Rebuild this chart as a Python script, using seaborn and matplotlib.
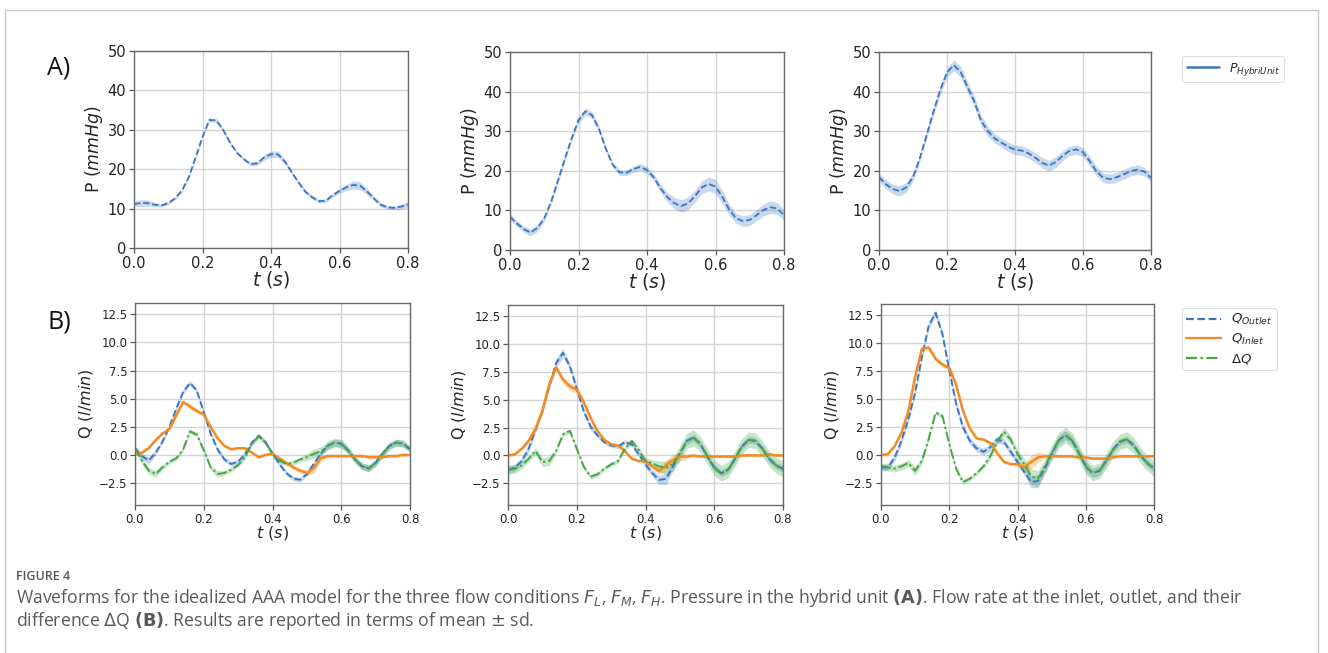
import numpy as np
import pandas as pd
import matplotlib
matplotlib.use("Agg")
import matplotlib.pyplot as plt
from matplotlib.lines import Line2D
import seaborn as sns

# time axis shared by every curve (s)
t = np.round(np.arange(0, 0.8001, 0.02), 2)

# ---- A) pressure in the hybrid unit, mean and sd (mmHg) ----
p_low = [11.2, 11.4, 11.4, 11.0, 10.8, 11.4, 12.6, 14.6, 18.0, 23.0, 28.2,
         32.5, 32.4, 30.0, 26.8, 24.2, 22.6, 21.3, 21.5, 23.0, 23.8, 23.8,
         22.0, 19.3, 16.7, 14.3, 12.9, 11.9, 12.0, 13.4, 14.5, 15.4, 16.0,
         15.8, 14.4, 12.6, 11.0, 10.3, 10.2, 10.5, 11.0]
p_low_sd = [0.6, 0.9, 0.8, 0.5, 0.4, 0.4, 0.4, 0.4, 0.4, 0.4, 0.4, 0.5, 0.5,
            0.5, 0.4, 0.4, 0.4, 0.5, 0.6, 0.7, 0.8, 0.8, 0.7, 0.5, 0.5, 0.5,
            0.5, 0.5, 0.5, 0.5, 0.6, 0.8, 1.0, 1.0, 0.8, 0.6, 0.5, 0.5, 0.5,
            0.6, 0.8]
p_mid = [8.4, 6.7, 5.3, 4.4, 5.6, 8.0, 12.2, 17.5, 23.0, 28.2, 32.8, 35.0,
         34.0, 30.5, 25.5, 21.5, 19.6, 19.5, 20.4, 21.0, 20.2, 18.3, 15.5,
         13.3, 11.8, 11.1, 11.8, 13.6, 15.8, 16.7, 16.0, 13.4, 10.2, 8.0, 7.3,
         7.6, 8.8, 10.1, 10.8, 10.5, 8.8]
p_mid_sd = [0.8, 0.8, 0.8, 0.9, 0.9, 0.8, 0.7, 0.7, 0.7, 0.7, 0.8, 0.9, 0.9,
            0.8, 0.7, 0.7, 0.7, 0.7, 0.8, 0.9, 0.9, 0.9, 1.0, 1.2, 1.4, 1.6,
            1.6, 1.5, 1.6, 1.8, 1.8, 1.6, 1.4, 1.3, 1.3, 1.4, 1.4, 1.5, 1.6,
            1.5, 1.3]
p_high = [18.4, 16.6, 15.4, 14.9, 15.8, 18.4, 23.2, 29.0, 34.9, 40.4, 44.8,
          46.7, 45.0, 41.2, 37.6, 32.7, 30.0, 28.2, 27.1, 26.1, 25.3, 25.1,
          24.4, 23.3, 22.0, 21.3, 22.2, 23.8, 25.0, 25.4, 24.7, 22.4, 19.8,
          18.2, 17.9, 18.4, 19.1, 19.9, 20.3, 19.8, 18.2]
p_high_sd = [1.0, 1.1, 1.2, 1.3, 1.2, 1.0, 1.0, 1.0, 1.1, 1.2, 1.3, 1.4, 1.4,
             1.4, 1.4, 1.3, 1.3, 1.2, 1.2, 1.2, 1.2, 1.2, 1.2, 1.2, 1.3, 1.4,
             1.4, 1.3, 1.2, 1.2, 1.2, 1.2, 1.2, 1.2, 1.2, 1.2, 1.2, 1.2, 1.2,
             1.1, 1.0]

# ---- B) flow rates, mean and sd (l/min) ----
q_out_low = [0.6, -0.1, -0.5, 0.2, 1.2, 2.5, 4.1, 5.6, 6.4, 5.7, 3.8, 1.9,
             0.5, -0.4, -0.8, -0.6, 0.1, 1.1, 1.7, 1.1, 0.1, -0.8, -1.6, -2.1,
             -2.2, -1.7, -0.8, 0.1, 0.8, 1.1, 1.0, 0.4, -0.4, -1.0, -1.2, -0.7,
             0.1, 0.8, 1.1, 1.0, 0.5]
q_in_low = [0.0, 0.2, 0.6, 1.3, 1.9, 2.3, 3.5, 4.7, 4.3, 3.9, 3.6, 2.5, 1.5,
            0.8, 0.5, 0.6, 0.6, 0.2, -0.2, 0.0, 0.1, -0.3, -0.7, -1.1, -1.4,
            -1.6, -1.2, -0.3, -0.1, -0.1, -0.1, -0.1, -0.1, -0.1, -0.2, -0.2,
            -0.2, -0.1, -0.1, 0.0, 0.0]
dq_low = [0.6, -0.5, -1.4, -1.7, -1.1, -0.6, -0.3, 0.5, 2.1, 1.8, 0.4, -1.1,
          -1.7, -1.6, -1.3, -0.9, -0.2, 1.0, 1.7, 1.1, 0.1, -0.5, -0.8, -0.7,
          -0.4, -0.2, 0.1, 0.3, 0.8, 1.1, 1.0, 0.4, -0.4, -1.0, -1.2, -0.7,
          0.1, 0.8, 1.1, 1.0, 0.5]
q_out_low_sd = [0.2, 0.3, 0.3, 0.2, 0.2, 0.2, 0.2, 0.2, 0.2, 0.2, 0.2, 0.2,
                0.2, 0.2, 0.2, 0.2, 0.2, 0.2, 0.2, 0.2, 0.2, 0.2, 0.2, 0.2,
                0.2, 0.2, 0.2, 0.2, 0.3, 0.3, 0.3, 0.3, 0.3, 0.3, 0.3, 0.3,
                0.3, 0.3, 0.3, 0.3, 0.2]
q_in_low_sd = [0.1, 0.1, 0.1, 0.1, 0.1, 0.1, 0.1, 0.2, 0.2, 0.2, 0.2, 0.1,
               0.1, 0.1, 0.1, 0.1, 0.1, 0.1, 0.1, 0.1, 0.1, 0.1, 0.1, 0.2,
               0.2, 0.3, 0.4, 0.3, 0.1, 0.1, 0.1, 0.1, 0.1, 0.1, 0.1, 0.1,
               0.1, 0.1, 0.1, 0.1, 0.1]
dq_low_sd = [0.2, 0.3, 0.3, 0.3, 0.2, 0.2, 0.2, 0.2, 0.2, 0.2, 0.2, 0.2, 0.3,
             0.2, 0.2, 0.2, 0.2, 0.2, 0.2, 0.2, 0.2, 0.2, 0.2, 0.2, 0.2, 0.3,
             0.4, 0.4, 0.4, 0.4, 0.4, 0.3, 0.3, 0.3, 0.3, 0.3, 0.3, 0.3, 0.3,
             0.3, 0.3]

q_out_mid = [-1.3, -1.1, -0.5, 0.6, 2.3, 4.0, 6.2, 8.3, 9.2, 8.0, 6.0, 4.0,
             2.6, 1.8, 1.2, 0.9, 0.8, 1.2, 1.0, 0.1, -0.8, -1.6, -2.2, -2.1,
             -1.0, 0.2, 1.3, 1.6, 1.0, -0.1, -1.1, -1.6, -1.3, -0.3, 0.8, 1.4,
             1.3, 0.6, -0.3, -0.9, -1.2]
q_in_mid = [0.0, 0.1, 0.6, 1.3, 2.4, 4.0, 6.4, 7.9, 6.8, 6.2, 5.9, 4.8, 3.4,
            2.2, 1.4, 1.0, 0.9, 0.4, -0.3, -0.5, -0.5, -1.0, -1.4, -0.9, -0.4,
            -0.1, -0.1, 0.0, -0.1, -0.1, -0.1, -0.1, -0.1, -0.1, 0.0, 0.0,
            0.0, 0.0, 0.1, 0.0, 0.0]
dq_mid = [-1.3, -1.2, -0.9, -0.3, 0.4, -0.6, -0.5, 0.4, 1.9, 2.2, 0.6, -1.0,
          -1.9, -1.7, -1.2, -0.8, -0.5, 0.6, 1.3, 0.5, -0.5, -0.7, -1.0, -1.1,
          -0.8, 0.2, 1.3, 1.6, 1.0, -0.1, -1.1, -1.6, -1.3, -0.3, 0.8, 1.4,
          1.3, 0.6, -0.3, -0.9, -1.2]
q_out_mid_sd = [0.3, 0.3, 0.3, 0.3, 0.3, 0.3, 0.3, 0.4, 0.4, 0.3, 0.3, 0.3,
                0.3, 0.2, 0.2, 0.2, 0.2, 0.2, 0.2, 0.2, 0.3, 0.3, 0.4, 0.5,
                0.4, 0.3, 0.3, 0.3, 0.3, 0.3, 0.3, 0.3, 0.3, 0.3, 0.3, 0.3,
                0.3, 0.3, 0.3, 0.3, 0.3]
q_in_mid_sd = [0.1, 0.1, 0.1, 0.2, 0.2, 0.2, 0.2, 0.2, 0.3, 0.4, 0.3, 0.2,
               0.2, 0.1, 0.1, 0.1, 0.1, 0.1, 0.1, 0.1, 0.1, 0.2, 0.3, 0.5,
               0.5, 0.4, 0.2, 0.1, 0.1, 0.1, 0.1, 0.1, 0.1, 0.1, 0.1, 0.1,
               0.1, 0.1, 0.1, 0.1, 0.1]
dq_mid_sd = [0.4, 0.4, 0.3, 0.3, 0.3, 0.4, 0.4, 0.2, 0.2, 0.2, 0.2, 0.2, 0.2,
             0.2, 0.2, 0.2, 0.2, 0.2, 0.2, 0.3, 0.3, 0.3, 0.5, 0.6, 0.6, 0.7,
             0.7, 0.7, 0.7, 0.7, 0.7, 0.7, 0.7, 0.7, 0.7, 0.7, 0.7, 0.7, 0.7,
             0.7, 0.7]

q_out_high = [-1.1, -1.1, -0.2, 1.3, 3.2, 5.6, 8.8, 11.6, 12.7, 10.8, 7.6,
              4.6, 2.5, 1.3, 0.6, 0.3, 0.7, 1.4, 1.2, 0.3, -0.6, -1.5, -2.4,
              -2.3, -1.2, 0.1, 1.3, 1.8, 1.3, 0.2, -1.0, -1.6, -1.4, -0.5, 0.5,
              1.2, 1.4, 0.9, 0.0, -0.7, -1.2]
q_in_high = [0.0, 0.1, 0.8, 2.0, 3.9, 7.0, 9.5, 9.6, 8.6, 8.1, 7.8, 6.3, 4.0,
             2.4, 1.5, 1.4, 1.1, 0.2, -0.6, -0.8, -0.8, -1.1, -0.6, -0.2, -0.1,
             -0.1, -0.1, -0.1, -0.1, -0.2, -0.2, -0.3, -0.3, -0.3, -0.2, -0.1,
             -0.1, -0.1, -0.1, -0.1, -0.1]
dq_high = [-1.0, -1.1, -1.2, -1.0, -0.7, -1.4, -0.5, 1.5, 3.8, 3.5, 1.0, -1.2,
           -2.4, -2.1, -1.6, -1.0, -0.1, 1.2, 2.1, 1.4, 0.1, -0.8, -1.9, -2.1,
           -1.0, 0.2, 1.3, 1.8, 1.3, 0.2, -1.0, -1.6, -1.4, -0.5, 0.5, 1.2,
           1.4, 0.9, 0.0, -0.7, -1.2]
q_out_high_sd = [0.3, 0.3, 0.3, 0.3, 0.3, 0.3, 0.3, 0.3, 0.3, 0.3, 0.3, 0.3,
                 0.3, 0.3, 0.3, 0.3, 0.3, 0.3, 0.3, 0.3, 0.3, 0.3, 0.5, 0.6,
                 0.5, 0.4, 0.4, 0.4, 0.4, 0.4, 0.4, 0.4, 0.4, 0.4, 0.3, 0.3,
                 0.3, 0.3, 0.3, 0.3, 0.3]
q_in_high_sd = [0.1, 0.1, 0.1, 0.1, 0.2, 0.2, 0.2, 0.2, 0.2, 0.2, 0.2, 0.2,
                0.1, 0.1, 0.1, 0.1, 0.1, 0.1, 0.1, 0.1, 0.2, 0.4, 0.6, 0.5,
                0.2, 0.1, 0.1, 0.1, 0.1, 0.1, 0.1, 0.1, 0.1, 0.1, 0.1, 0.1,
                0.1, 0.1, 0.1, 0.1, 0.1]
dq_high_sd = [0.3, 0.3, 0.3, 0.3, 0.3, 0.4, 0.3, 0.2, 0.2, 0.2, 0.2, 0.2, 0.2,
              0.2, 0.2, 0.2, 0.3, 0.3, 0.4, 0.4, 0.4, 0.5, 0.7, 0.7, 0.6, 0.7,
              0.7, 0.7, 0.7, 0.7, 0.7, 0.7, 0.7, 0.7, 0.7, 0.7, 0.7, 0.7, 0.7,
              0.7, 0.7]

pressure = [(p_low, p_low_sd), (p_mid, p_mid_sd), (p_high, p_high_sd)]
flows = [
    [(q_out_low, q_out_low_sd), (q_in_low, q_in_low_sd), (dq_low, dq_low_sd)],
    [(q_out_mid, q_out_mid_sd), (q_in_mid, q_in_mid_sd), (dq_mid, dq_mid_sd)],
    [(q_out_high, q_out_high_sd), (q_in_high, q_in_high_sd), (dq_high, dq_high_sd)],
]

BLUE, ORANGE, GREEN = "#3b76c2", "#f58a1f", "#43a743"
flow_styles = [(BLUE, (0, (3.5, 1.6)), 1.4), (ORANGE, "-", 1.8),
               (GREEN, (0, (5, 1.5, 1.2, 1.5)), 1.4)]

sns.set_theme(style="ticks")
plt.rcParams["font.family"] = ["DejaVu Sans"]
plt.rcParams["mathtext.fontset"] = "dejavusans"

W, H = 1328, 653
fig = plt.figure(figsize=(W / 100, H / 100), dpi=100)


def px_box(left, top, right, bottom):
    return [left / W, 1 - bottom / H, (right - left) / W, (bottom - top) / H]


def style_axes(ax, tick_size):
    ax.grid(True, color="#d4d4d4", linewidth=1.0)
    ax.set_axisbelow(True)
    for sp in ax.spines.values():
        sp.set_color("#6a6a6a")
        sp.set_linewidth(1.0)
    ax.tick_params(length=3.5, width=0.9, color="#555555", labelsize=tick_size,
                   labelcolor="#222222", pad=2)


def draw_band(ax, mean, sd, color, ls, lw, alpha):
    mean = np.asarray(mean)
    sd = np.asarray(sd)
    ax.fill_between(t, mean - sd, mean + sd, color=color, alpha=alpha, linewidth=0)
    df = pd.DataFrame({"t": t, "v": mean})
    sns.lineplot(data=df, x="t", y="v", ax=ax, color=color, linestyle=ls, linewidth=lw)


top_boxes = [(134, 51, 408, 248), (510, 52, 784, 250), (879, 52, 1151, 250)]
bottom_boxes = [(135, 303, 410, 505), (508, 305, 783, 505), (881, 304, 1154, 505)]

for box, (mean, sd) in zip(top_boxes, pressure):
    ax = fig.add_axes(px_box(*box))
    draw_band(ax, mean, sd, BLUE, (0, (3.5, 1.6)), 1.3, 0.28)
    ax.set_xlim(0, 0.8)
    ax.set_ylim(0, 50)
    ax.set_xticks([0.0, 0.2, 0.4, 0.6, 0.8])
    ax.set_yticks([0, 10, 20, 30, 40, 50])
    ax.set_xticklabels(["0.0", "0.2", "0.4", "0.6", "0.8"])
    style_axes(ax, 10.5)
    ax.set_xlabel(r"$t\ (s)$", fontsize=13.5, labelpad=-1)
    ax.set_ylabel(r"P $(mmHg)$", fontsize=12.5, labelpad=2)

for box, series in zip(bottom_boxes, flows):
    ax = fig.add_axes(px_box(*box))
    for (mean, sd), (color, ls, lw) in zip(series, flow_styles):
        draw_band(ax, mean, sd, color, ls, lw, 0.3)
    ax.set_xlim(0, 0.8)
    ax.set_ylim(-4.45, 13.5)
    ax.set_xticks([0.0, 0.2, 0.4, 0.6, 0.8])
    ax.set_yticks([-2.5, 0.0, 2.5, 5.0, 7.5, 10.0, 12.5])
    ax.set_xticklabels(["0.0", "0.2", "0.4", "0.6", "0.8"])
    ax.set_yticklabels(["\u22122.5", "0.0", "2.5", "5.0", "7.5", "10.0", "12.5"])
    style_axes(ax, 8.5)
    ax.set_xlabel(r"$t\ (s)$", fontsize=11.5, labelpad=-1)
    ax.set_ylabel(r"Q $(l/min)$", fontsize=11.5, labelpad=3)

# panel letters
fig.text(47 / W, 1 - 68 / H, "A)", fontsize=18, va="center", ha="left",
         family=["Open Sans", "DejaVu Sans"], color="#111111", fontweight="medium")
fig.text(47 / W, 1 - 322 / H, "B)", fontsize=18, va="center", ha="left",
         family=["Open Sans", "DejaVu Sans"], color="#111111", fontweight="medium")

# legends
leg1 = fig.legend(handles=[Line2D([], [], color=BLUE, lw=1.8)],
                  labels=[r"$P_{HybriUnit}$"], loc="upper left",
                  bbox_to_anchor=(1176 / W, 1 - 50 / H), fontsize=9,
                  frameon=True, handlelength=2.6, borderpad=0.35)
leg2 = fig.legend(handles=[Line2D([], [], color=c, ls=s, lw=1.6) for c, s, _ in flow_styles],
                  labels=[r"$Q_{Outlet}$", r"$Q_{Inlet}$", r"$\Delta Q$"], loc="upper left",
                  bbox_to_anchor=(1175 / W, 1 - 301 / H), fontsize=9.5,
                  frameon=True, handlelength=2.6, labelspacing=0.35, borderpad=0.35)
for leg in (leg1, leg2):
    leg.get_frame().set_edgecolor("#d8d8d8")
    leg.get_frame().set_linewidth(0.8)
    leg.get_frame().set_boxstyle("round", pad=0, rounding_size=0.2)

# page frame
frame_kw = dict(color="#c8c8c8", lw=1.0, transform=fig.transFigure)
fig.add_artist(Line2D([5 / W, 5 / W], [0, 1 - 10 / H], **frame_kw))
fig.add_artist(Line2D([5 / W, 1318 / W], [1 - 10 / H, 1 - 10 / H], **frame_kw))
fig.add_artist(Line2D([1318 / W, 1318 / W], [0, 1 - 10 / H], **frame_kw))

# caption
cap_font = ["Open Sans", "DejaVu Sans"]
fig.text(16 / W, 1 - 577 / H, "FIGURE 4", fontsize=9, va="center", ha="left",
         family=cap_font, color="#555555", fontweight="semibold")
fig.text(16 / W, 1 - 598 / H,
         r"Waveforms for the idealized AAA model for the three flow conditions "
         r"$F_L$, $F_M$, $F_H$. Pressure in the hybrid unit $\mathbf{(A)}$. "
         r"Flow rate at the inlet, outlet, and their",
         fontsize=12.7, va="center", ha="left", family=cap_font, color="#5a5a5a")
fig.text(16 / W, 1 - 621 / H,
         r"difference $\Delta$Q $\mathbf{(B)}$. Results are reported in terms of mean $\pm$ sd.",
         fontsize=12.7, va="center", ha="left", family=cap_font, color="#5a5a5a")

fig.savefig("out.png", dpi=100, facecolor="white")
